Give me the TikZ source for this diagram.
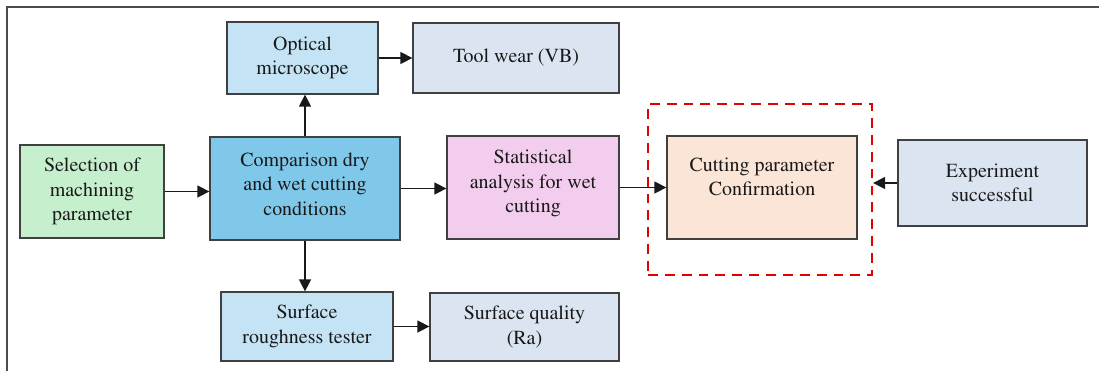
\documentclass[tikz,border=0pt]{standalone}
\usepackage[T1]{fontenc}
\usepackage{times}
\usetikzlibrary{
	arrows.meta,
	calc,
	positioning,
}
\definecolor{selgreen}{RGB}{198,239,206}
\definecolor{compblue}{RGB}{128,200,234}
\definecolor{lightblue}{RGB}{196,228,245}
\definecolor{greyblue}{RGB}{219,228,241}
\definecolor{statpink}{RGB}{242,205,238}
\definecolor{cutpeach}{RGB}{251,229,214}
\tikzset{box/.style={
	draw=black!75,
	line width=0.9pt,
	align=center,
	inner sep=2pt,
	font=\fontsize{14.2}{17.4}\selectfont,
	text=black!90,
}}
\tikzset{arr/.style={
	-{Triangle[length=8.5pt,width=8.5pt]},
	line width=1.1pt,
	black!90,
}}

\begin{document}
\begin{tikzpicture}[x=0.025cm,y=-0.025cm]
\useasboundingbox (0,0) rectangle (1099,371);
\draw[line width=1.5pt, black!70] (7,371) -- (7,7) -- (1099,7);

\node[box, fill=selgreen, minimum width=3.6cm, minimum height=2.325cm]
	(sel) at (92,191.5) {Selection of\\machining\\parameter};
\node[box, fill=compblue, minimum width=4.75cm, minimum height=2.575cm]
	(comp) at (305,188.5) {Comparison dry\\and wet cutting\\conditions\\[-11pt]\mbox{}};
\node[box, fill=lightblue, minimum width=3.775cm, minimum height=1.8cm]
	(opt) at (302.5,58) {Optical\\microscope};
\node[box, fill=greyblue, minimum width=5.15cm, minimum height=1.75cm]
	(tool) at (516,58) {Tool wear (VB)};
\node[box, fill=statpink, minimum width=4.3cm, minimum height=2.575cm]
	(stat) at (533,187.5) {Statistical\\analysis for wet\\cutting\\[-9pt]\mbox{}};
\node[box, fill=cutpeach, minimum width=4.75cm, minimum height=2.575cm]
	(cut) at (762,187.5) {Cutting parameter\\Confirmation\\[-2pt]\mbox{}};
\node[draw=red!90!black, dash pattern=on 7pt off 5pt, line width=1.6pt,
	minimum width=5.6cm, minimum height=4.275cm]
	(conf) at (760,189.5) {};
\node[box, fill=greyblue, minimum width=4.725cm, minimum height=2.15cm]
	(exp) at (992.5,183) {Experiment\\successful};
\node[box, fill=lightblue, minimum width=4.3cm, minimum height=1.725cm]
	(rough) at (307,326.5) {Surface\\roughness tester};
\node[box, fill=greyblue, minimum width=4.725cm, minimum height=1.7cm]
	(qual) at (524.5,327) {Surface quality\\(Ra)};

\foreach \u/\v in {
	sel/comp,comp/stat,stat/cut,opt/tool,rough/qual%
}{
	\draw[arr] (\u.east) -- (\u.east -| \v.west);
}
\draw[arr] (comp.north) -- (comp.north |- opt.south);
\draw[arr] (comp.south) -- (comp.south |- rough.north);
\draw[arr] (exp.west) -- (exp.west -| conf.east);
\end{tikzpicture}
\end{document}
